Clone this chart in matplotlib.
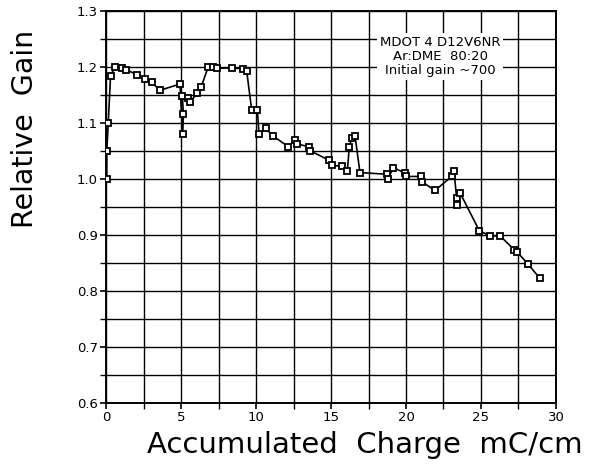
import matplotlib
matplotlib.use("Agg")
import matplotlib.pyplot as plt
from matplotlib.ticker import MultipleLocator

# --- datos ---
charge = [0.05, 0.05, 0.15, 0.3, 0.6, 1.05, 1.33, 2.04, 2.6, 3.05, 3.6, 4.93,
          5.11, 5.16, 5.09, 5.49, 5.6, 6.09, 6.33, 6.82, 7.1, 7.38, 8.38, 9.16,
          9.38, 9.71, 10.09, 10.2, 10.64, 11.1, 12.16, 12.6, 12.75, 13.53, 13.6,
          14.87, 15.04, 15.71, 16.09, 16.22, 16.38, 16.6, 16.93, 18.7, 18.8,
          19.15, 19.93, 19.98, 20.98, 21.04, 21.93, 23.05, 23.2, 23.38, 23.38,
          23.6, 24.89, 25.6, 26.27, 27.22, 27.42, 28.15, 28.93]
gain = [1.00, 1.05, 1.10, 1.183, 1.20, 1.198, 1.195, 1.186, 1.178, 1.172, 1.158,
        1.169, 1.079, 1.115, 1.148, 1.144, 1.137, 1.153, 1.163, 1.20, 1.20, 1.197,
        1.198, 1.196, 1.192, 1.123, 1.123, 1.079, 1.09, 1.077, 1.057, 1.07, 1.062,
        1.057, 1.05, 1.033, 1.024, 1.022, 1.014, 1.057, 1.073, 1.077, 1.011,
        1.008, 0.999, 1.02, 1.01, 1.004, 1.004, 0.995, 0.979, 1.004, 1.013,
        0.965, 0.953, 0.975, 0.907, 0.898, 0.898, 0.873, 0.869, 0.847, 0.822]

info_lines = ["MDOT 4 D12V6NR", "Ar:DME  80:20", "Initial gain ~700"]

fig = plt.figure(figsize=(5.97, 4.70), dpi=100)
ax = fig.add_axes([0.1776, 0.1432, 0.7537, 0.8340])

ax.plot(charge, gain, color="black", lw=1.2, marker="s", ms=5,
        mfc="white", mec="black", mew=1.3, zorder=5)

ax.set_xlim(0, 30)
ax.set_ylim(0.6, 1.3)
ax.xaxis.set_major_locator(MultipleLocator(5))
ax.xaxis.set_minor_locator(MultipleLocator(2.5))
ax.yaxis.set_major_locator(MultipleLocator(0.1))
ax.yaxis.set_minor_locator(MultipleLocator(0.05))
ax.set_yticklabels([f"{v:.1f}" for v in ax.get_yticks()])
ax.grid(which="both", color="black", lw=1.0)
ax.set_axisbelow(True)
for s in ax.spines.values():
    s.set_linewidth(1.4)

ax.tick_params(which="major", direction="out", length=4, width=1.2,
               labelsize=9.5, pad=2)
ax.tick_params(which="minor", direction="out", length=4, width=1.0)

ax.set_xlabel("Accumulated  Charge  mC/cm", fontsize=21)
ax.xaxis.set_label_coords(0.576, -0.071)
ax.set_ylabel("Relative  Gain", fontsize=20.5)
ax.yaxis.set_label_coords(-0.150, 0.698)

ax.text(22.27, 1.255, "\n".join(info_lines), ha="center", va="top",
        fontsize=9.5, linespacing=1.1, zorder=6,
        bbox=dict(facecolor="white", edgecolor="none", pad=2))

plt.savefig("out.png", dpi=100)
